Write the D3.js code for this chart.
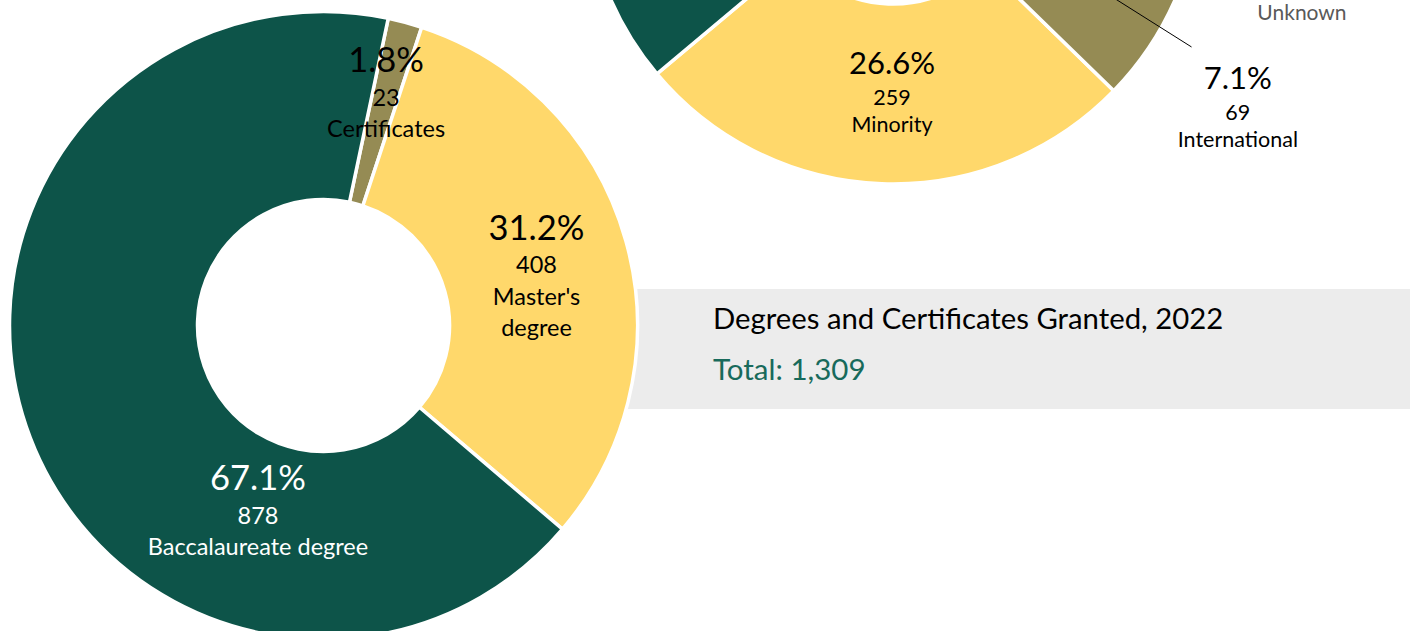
<!DOCTYPE html>
<html>
<head>
<meta charset="utf-8">
<script src="https://cdn.jsdelivr.net/npm/d3@7"></script>
<style>
  html, body { margin: 0; padding: 0; background: #fff; }
  svg { display: block; font-family: Lato, "Open Sans", sans-serif; }
</style>
</head>
<body>
<div id="chart"></div>
<script>
// degrees granted, 2022
const degreeNames = ['Certificates', "Master's degree", 'Baccalaureate degree'];
const degreeCounts = [23, 408, 878];
const degreeLabelLines = [['Certificates'], ["Master's", 'degree'], ['Baccalaureate degree']];

// student groups (upper donut, mostly cut off by the frame)
const groupNames = ['Minority', 'White', 'Unknown', 'International'];
const groupCounts = [259, 613, 32, 69];

const titleText = 'Degrees and Certificates Granted, 2022';

const W = 1416;
const H = 631;
const deg = Math.PI / 180;

const GREEN = '#0d5449';
const YELLOW = '#ffd86b';
const OLIVE = '#958b54';

const fmtPct = d3.format('.1%');
const fmtInt = d3.format(',');

const svg = d3
  .select('#chart')
  .append('svg')
  .attr('width', W)
  .attr('height', H)
  .attr('viewBox', `0 0 ${W} ${H}`);

// grey title band sits behind the big donut
svg
  .append('rect')
  .attr('x', 560)
  .attr('y', 289)
  .attr('width', 850)
  .attr('height', 120)
  .attr('fill', '#ececec');

const total = d3.sum(degreeCounts);

svg
  .append('text')
  .attr('x', 713)
  .attr('y', 329)
  .attr('font-size', '29.3px')
  .attr('fill', '#000')
  .text(titleText);

svg
  .append('text')
  .attr('x', 713)
  .attr('y', 380)
  .attr('font-size', '29.5px')
  .attr('fill', '#186a5b')
  .text(`Total: ${fmtInt(total)}`);

function polar(cx, cy, angleDeg, r) {
  const a = angleDeg * deg;
  return [cx + r * Math.sin(a), cy - r * Math.cos(a)];
}

function drawDonut(opts) {
  const { cx, cy, outer, inner, start, counts, colors } = opts;
  const pie = d3
    .pie()
    .sort(null)
    .value((d) => d)
    .startAngle(start * deg)
    .endAngle(start * deg + 2 * Math.PI);
  const arc = d3.arc().innerRadius(inner).outerRadius(outer);
  const g = svg.append('g').attr('transform', `translate(${cx},${cy})`);
  g.selectAll('path')
    .data(pie(counts))
    .join('path')
    .attr('d', arc)
    .attr('fill', (d, i) => colors[i])
    .attr('stroke', '#fff')
    .attr('stroke-width', 3.5)
    .attr('stroke-linejoin', 'miter');
  return pie(counts);
}

// pct/count lines are optional (null = not drawn)
function drawLabel(x, y, pct, count, lines, color, sizes) {
  const g = svg.append('g').attr('fill', color).attr('text-anchor', 'middle');
  if (pct !== null) {
    g.append('text')
      .attr('x', x)
      .attr('y', y)
      .attr('dominant-baseline', 'central')
      .attr('font-size', sizes.big + 'px')
      .text(pct);
  }
  if (count !== null) {
    g.append('text')
      .attr('x', x)
      .attr('y', y + sizes.gap1)
      .attr('dominant-baseline', 'central')
      .attr('font-size', sizes.small + 'px')
      .text(count);
  }
  lines.forEach((t, i) => {
    g.append('text')
      .attr('x', x)
      .attr('y', y + sizes.gap1 + sizes.gap2 * (i + 1))
      .attr('dominant-baseline', 'central')
      .attr('font-size', sizes.small + 'px')
      .text(t);
  });
}

// big donut
const L = { cx: 323.5, cy: 325.5, outer: 314, inner: 126 };
const leftArcs = drawDonut({
  ...L,
  start: 11.9,
  counts: degreeCounts,
  colors: [OLIVE, YELLOW, GREEN],
});

// label anchors (angle in degrees, radius) for the percentage line
const leftLabelPos = [
  [13.2, 274],
  [65, 235],
  [203.4, 165],
];
const leftLabelColor = ['#000', '#000', '#fff'];
const leftSizes = { big: 34.5, small: 23.5, gap1: 38, gap2: 31.5 };

leftArcs.forEach((a, i) => {
  const [x, y] = polar(L.cx, L.cy, leftLabelPos[i][0], leftLabelPos[i][1]);
  drawLabel(
    x,
    y,
    fmtPct(degreeCounts[i] / total),
    fmtInt(degreeCounts[i]),
    degreeLabelLines[i],
    leftLabelColor[i],
    leftSizes,
  );
});

// upper right donut
const R = { cx: 893, cy: -124, outer: 308, inner: 128 };
const groupTotal = d3.sum(groupCounts);
drawDonut({
  ...R,
  start: 134.2,
  counts: groupCounts,
  colors: [YELLOW, GREEN, '#bfbfbf', OLIVE],
});

const rightSizes = { big: 31, small: 21.5, gap1: 35, gap2: 27 };

// leader line for International
const p0 = polar(R.cx, R.cy, 118.4, R.outer * 0.71);
const p1 = polar(R.cx, R.cy, 119.8, R.outer * 1.117);
svg
  .append('line')
  .attr('x1', p0[0])
  .attr('y1', p0[1])
  .attr('x2', p1[0])
  .attr('y2', p1[1])
  .attr('stroke', '#000')
  .attr('stroke-width', 1);

const rightLabelPos = {
  Minority: [180.3, 186],
  International: [120.2, 399],
  Unknown: [100.25, 415.6],
};
const rightLabelColor = { Minority: '#000', International: '#000', Unknown: '#595959' };
// Unknown's value lines sit above the frame, only its name shows
const rightShowValues = { Minority: true, International: true, Unknown: false };

groupNames.forEach((name, i) => {
  if (!rightLabelPos[name]) return;
  const [x, y] = polar(R.cx, R.cy, rightLabelPos[name][0], rightLabelPos[name][1]);
  const show = rightShowValues[name];
  drawLabel(
    x,
    y,
    show ? fmtPct(groupCounts[i] / groupTotal) : null,
    show ? fmtInt(groupCounts[i]) : null,
    [name],
    rightLabelColor[name],
    name === 'Unknown' ? { ...rightSizes, small: 21 } : rightSizes,
  );
});
</script>
</body>
</html>
